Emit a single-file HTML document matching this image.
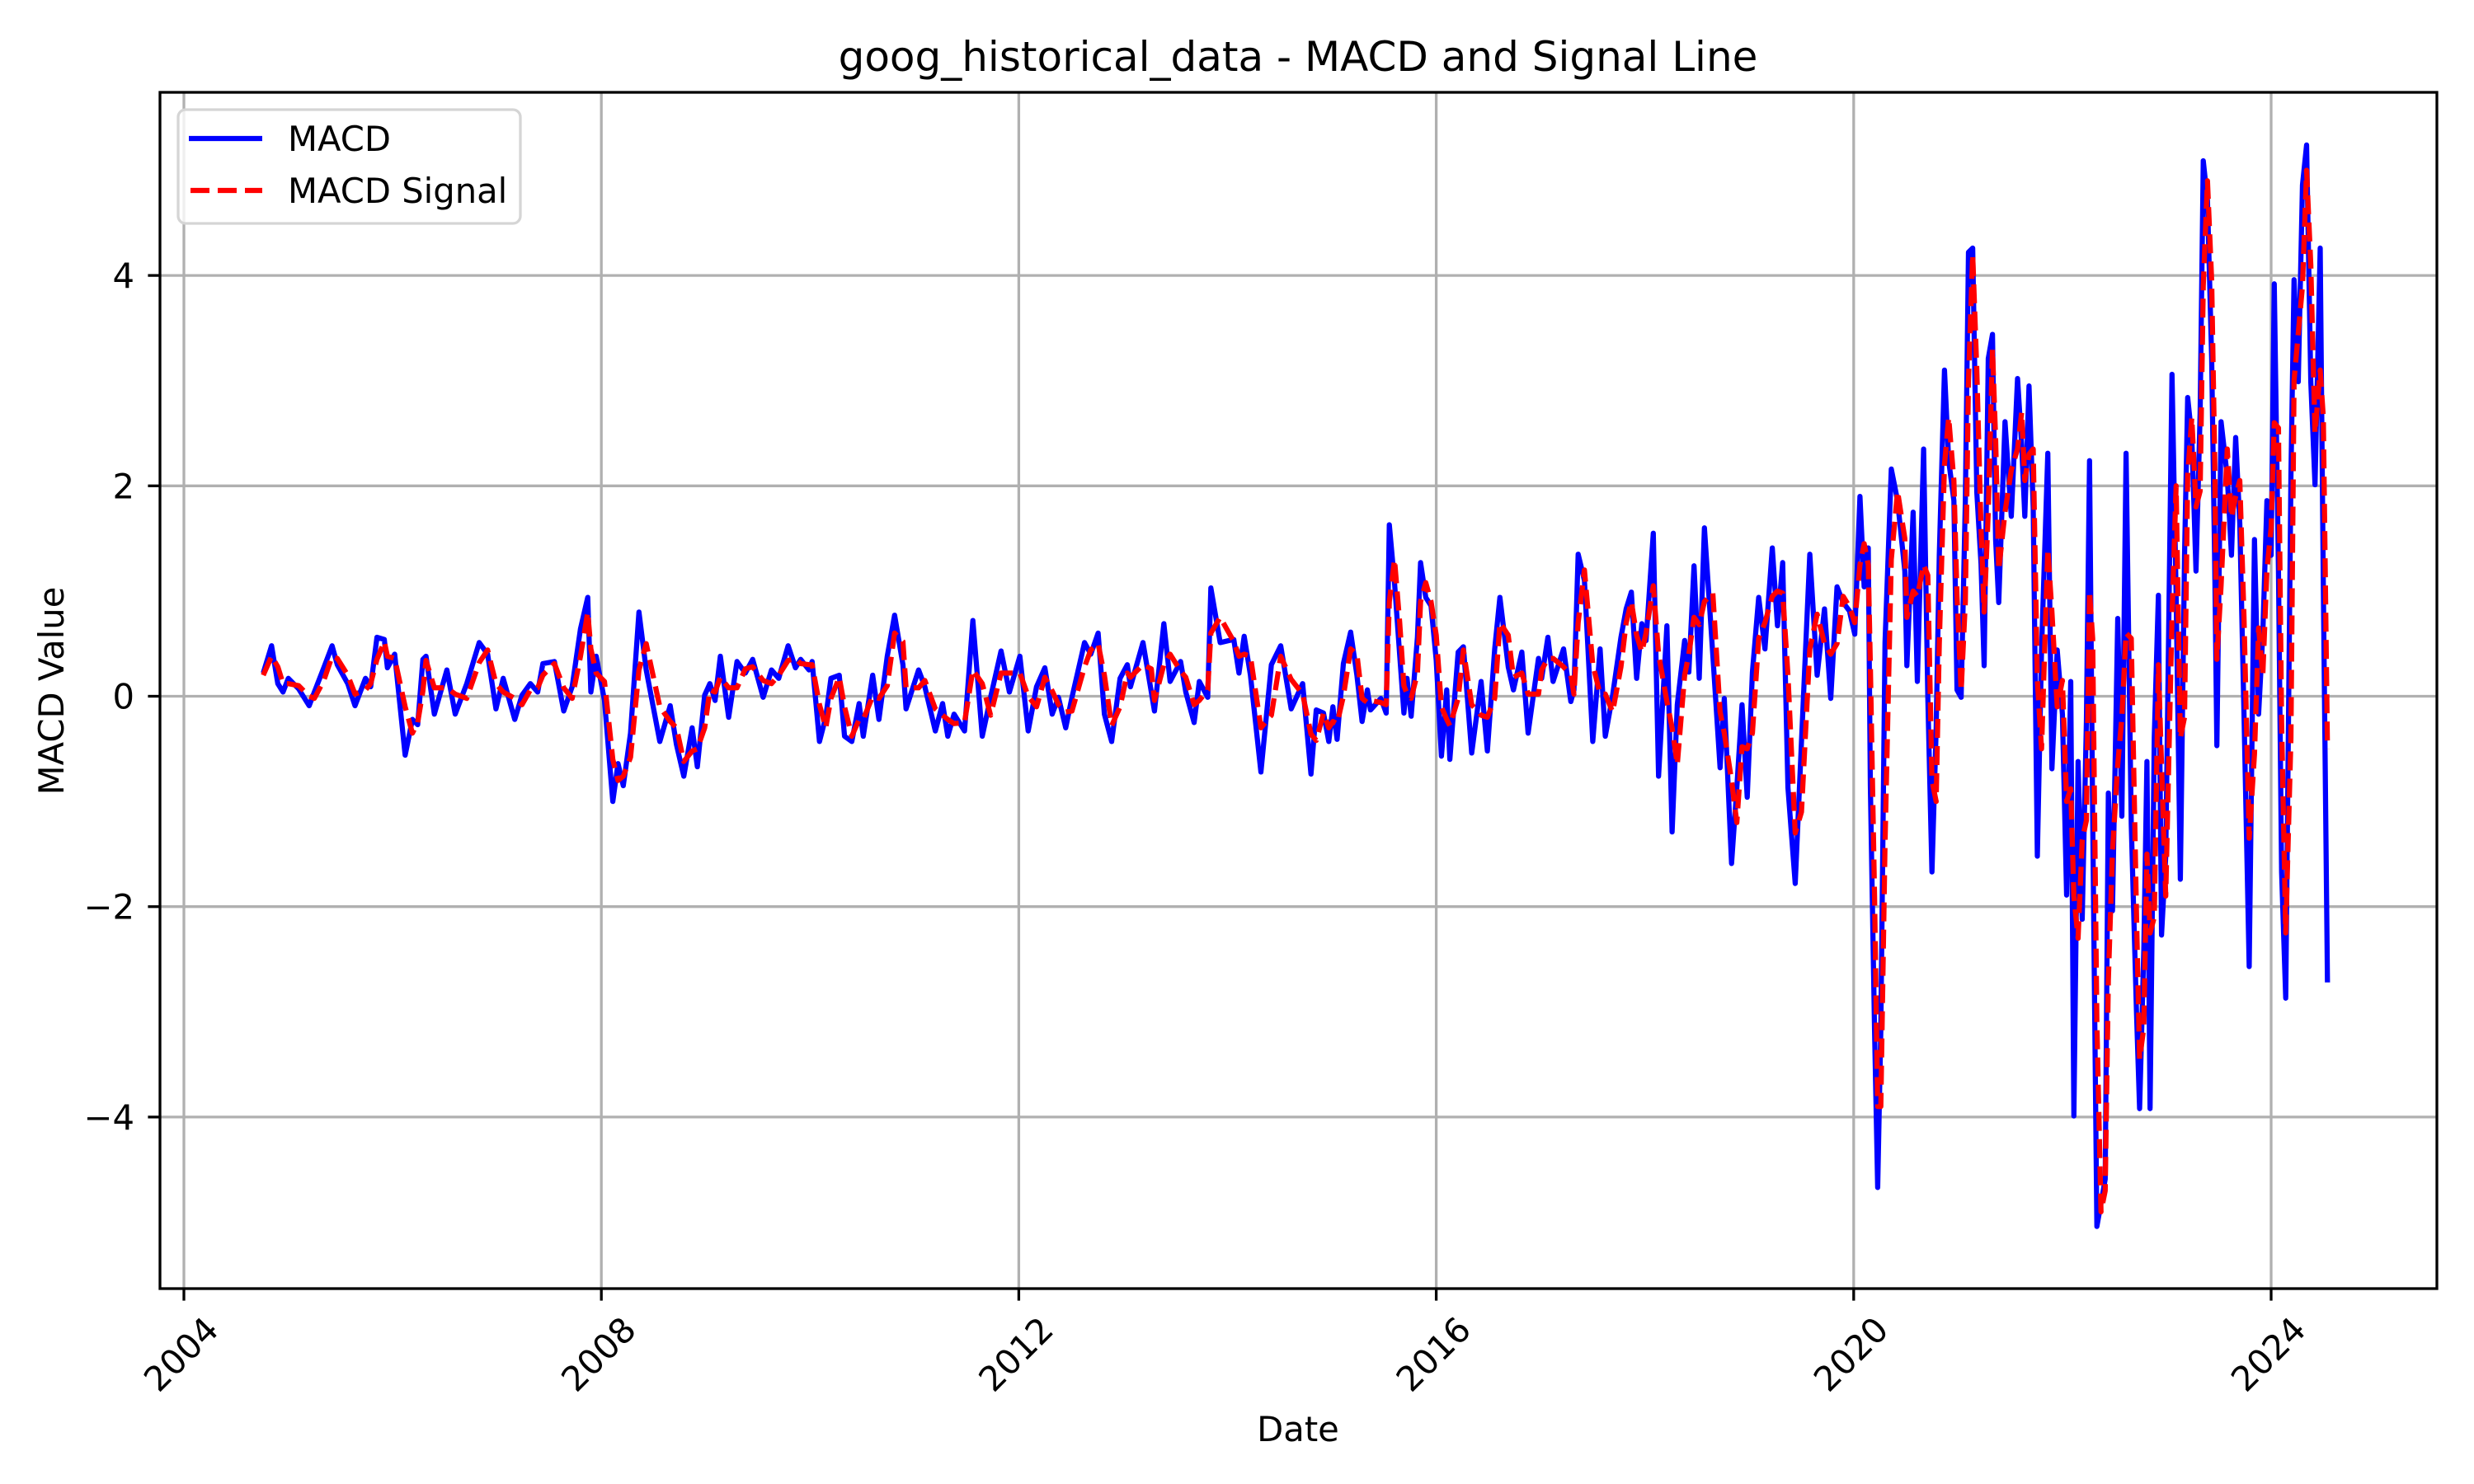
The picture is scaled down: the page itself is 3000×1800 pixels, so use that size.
<!DOCTYPE html>
<html><head><meta charset="utf-8"><style>
html,body{margin:0;padding:0;background:#fff;}
svg{display:block;font-family:"DejaVu Sans","Liberation Sans",sans-serif;}
</style></head><body>
<svg id="chart" width="3000" height="1800" viewBox="0 0 3000 1800">
<rect x="0" y="0" width="3000" height="1800" fill="#fff"/>
<g id="grid"></g>
<g id="plot"></g>
<rect x="194" y="112" width="2761" height="1451" fill="none" stroke="#000" stroke-width="3.3"/>
<g id="ticks"></g>
<text x="1574" y="86" font-size="50" text-anchor="middle">goog_historical_data - MACD and Signal Line</text>
<text x="1574" y="1748" font-size="41.7" text-anchor="middle">Date</text>
<text x="0" y="0" font-size="41.7" text-anchor="middle" transform="translate(77,838) rotate(-90)">MACD Value</text>
<g>
<rect x="216" y="133" width="415" height="138" rx="9" fill="#fff" fill-opacity="0.8" stroke="#d5d5d5" stroke-width="3.3"/>
<line x1="229" y1="168" x2="318" y2="168" stroke="#0000ff" stroke-width="6.25"/>
<text x="349" y="183" font-size="41.7">MACD</text>
<line x1="231" y1="231" x2="318" y2="231" stroke="#ff0000" stroke-width="6.25" stroke-dasharray="23,10"/>
<text x="349" y="246" font-size="41.7">MACD Signal</text>
</g>
</svg>
<script>
const dates = [2004.76,2004.84,2004.90,2004.95,2005.00,2005.10,2005.20,2005.25,2005.34,2005.42,2005.47,2005.57,2005.64,2005.74,2005.79,2005.85,2005.92,2005.95,2006.02,2006.12,2006.19,2006.24,2006.29,2006.32,2006.40,2006.52,2006.60,2006.71,2006.83,2006.91,2006.99,2007.06,2007.17,2007.24,2007.32,2007.39,2007.44,2007.55,2007.64,2007.72,2007.80,2007.87,2007.90,2007.95,2008.03,2008.11,2008.16,2008.21,2008.28,2008.36,2008.43,2008.56,2008.66,2008.72,2008.79,2008.87,2008.92,2008.99,2009.04,2009.09,2009.14,2009.22,2009.30,2009.38,2009.45,2009.55,2009.63,2009.70,2009.79,2009.86,2009.91,2009.99,2010.02,2010.09,2010.15,2010.20,2010.28,2010.33,2010.40,2010.47,2010.51,2010.60,2010.66,2010.74,2010.81,2010.89,2010.92,2011.04,2011.10,2011.20,2011.27,2011.32,2011.38,2011.48,2011.56,2011.65,2011.73,2011.83,2011.91,2012.01,2012.09,2012.17,2012.25,2012.32,2012.38,2012.45,2012.51,2012.63,2012.69,2012.76,2012.82,2012.89,2012.97,2013.04,2013.07,2013.19,2013.27,2013.30,2013.39,2013.45,2013.55,2013.60,2013.68,2013.73,2013.81,2013.84,2013.93,2014.06,2014.11,2014.16,2014.22,2014.32,2014.42,2014.51,2014.61,2014.72,2014.80,2014.85,2014.92,2014.97,2015.01,2015.05,2015.11,2015.18,2015.24,2015.29,2015.34,2015.37,2015.47,2015.52,2015.55,2015.60,2015.65,2015.69,2015.72,2015.76,2015.82,2015.85,2015.90,2015.95,2016.00,2016.05,2016.10,2016.13,2016.21,2016.26,2016.34,2016.43,2016.49,2016.56,2016.61,2016.69,2016.74,2016.82,2016.88,2016.98,2017.01,2017.07,2017.12,2017.22,2017.29,2017.32,2017.36,2017.42,2017.50,2017.57,2017.62,2017.69,2017.77,2017.82,2017.87,2017.92,2017.97,2018.01,2018.08,2018.13,2018.21,2018.26,2018.31,2018.38,2018.42,2018.47,2018.52,2018.57,2018.65,2018.72,2018.76,2018.83,2018.88,2018.93,2018.98,2019.03,2019.09,2019.15,2019.22,2019.27,2019.32,2019.37,2019.44,2019.50,2019.58,2019.65,2019.72,2019.78,2019.84,2019.90,2019.96,2020.01,2020.06,2020.10,2020.14,2020.16,2020.20,2020.23,2020.26,2020.30,2020.36,2020.42,2020.49,2020.51,2020.57,2020.61,2020.67,2020.71,2020.75,2020.79,2020.82,2020.87,2020.91,2020.96,2020.99,2021.03,2021.07,2021.10,2021.14,2021.18,2021.22,2021.25,2021.29,2021.33,2021.36,2021.39,2021.45,2021.51,2021.57,2021.61,2021.64,2021.68,2021.72,2021.76,2021.80,2021.86,2021.90,2021.95,2022.00,2022.04,2022.08,2022.11,2022.15,2022.19,2022.23,2022.26,2022.29,2022.33,2022.37,2022.41,2022.44,2022.48,2022.53,2022.57,2022.61,2022.66,2022.71,2022.74,2022.78,2022.81,2022.84,2022.88,2022.92,2022.95,2022.99,2023.05,2023.09,2023.13,2023.17,2023.20,2023.24,2023.28,2023.32,2023.35,2023.39,2023.43,2023.46,2023.48,2023.52,2023.58,2023.62,2023.66,2023.70,2023.74,2023.79,2023.84,2023.88,2023.92,2023.96,2024.00,2024.03,2024.07,2024.10,2024.14,2024.19,2024.22,2024.26,2024.30,2024.34,2024.38,2024.42,2024.47,2024.50,2024.54];
const macdValues = [0.22,0.48,0.12,0.04,0.17,0.07,-0.09,0.04,0.27,0.48,0.30,0.12,-0.09,0.17,0.09,0.56,0.54,0.27,0.40,-0.56,-0.22,-0.27,0.35,0.38,-0.17,0.25,-0.17,0.12,0.51,0.40,-0.12,0.17,-0.22,0.01,0.12,0.04,0.31,0.33,-0.14,0.09,0.64,0.94,0.04,0.38,-0.04,-1.00,-0.64,-0.85,-0.35,0.80,0.25,-0.43,-0.09,-0.46,-0.76,-0.30,-0.67,0.01,0.12,-0.04,0.38,-0.20,0.33,0.22,0.35,-0.01,0.25,0.17,0.48,0.27,0.35,0.25,0.33,-0.43,-0.20,0.17,0.20,-0.38,-0.43,-0.07,-0.38,0.20,-0.22,0.38,0.77,0.30,-0.12,0.25,0.09,-0.33,-0.07,-0.38,-0.17,-0.33,0.72,-0.38,-0.01,0.43,0.04,0.38,-0.33,0.09,0.27,-0.17,-0.01,-0.30,-0.01,0.51,0.40,0.60,-0.17,-0.43,0.17,0.30,0.09,0.51,0.04,-0.14,0.69,0.14,0.33,0.04,-0.25,0.14,-0.01,1.03,0.51,0.54,0.22,0.57,0.20,-0.72,0.30,0.48,-0.12,0.12,-0.74,-0.13,-0.16,-0.43,-0.10,-0.41,0.31,0.61,0.20,-0.24,0.06,-0.13,-0.02,-0.16,1.63,1.08,0.39,-0.16,0.17,-0.19,0.56,1.27,0.94,0.86,0.34,-0.57,0.06,-0.60,0.42,0.47,-0.54,0.14,-0.52,0.45,0.94,0.28,0.06,0.42,-0.35,0.36,0.17,0.56,0.14,0.45,-0.05,0.06,1.35,1.10,-0.43,0.45,-0.38,0.01,0.56,0.83,0.99,0.17,0.69,0.53,1.55,-0.76,0.67,-1.29,-0.08,0.53,0.23,1.24,0.17,1.60,0.39,-0.68,-0.02,-1.59,-0.87,-0.08,-0.96,0.23,0.94,0.45,1.41,0.67,1.27,-0.87,-1.78,-0.43,1.35,0.20,0.83,-0.02,1.04,0.89,0.81,0.59,1.90,1.04,1.41,-0.84,-3.17,-4.67,-3.17,0.51,2.16,1.86,1.19,0.29,1.75,0.14,2.35,-0.01,-1.67,-0.32,1.34,3.10,2.24,1.86,0.06,-0.01,1.86,4.22,4.26,1.94,1.26,0.29,3.21,3.44,1.49,0.89,2.61,1.71,3.02,2.39,1.71,2.95,1.79,-1.52,0.44,2.31,-0.69,0.44,-0.17,-1.89,0.14,-3.99,-0.62,-2.12,-0.24,2.24,-1.14,-5.04,-4.82,-4.59,-0.92,-2.04,0.74,-1.14,2.31,-1.22,-3.02,-3.92,-2.42,-0.62,-3.92,-0.39,0.96,-2.27,-1.52,3.06,0.96,-1.74,1.34,2.84,2.46,1.19,2.69,5.09,4.71,3.21,1.19,-0.47,2.61,2.09,1.34,2.46,1.64,-0.17,-2.57,1.49,-0.17,0.59,1.86,1.34,3.92,1.19,-1.67,-2.87,2.09,3.96,2.99,4.86,5.24,2.99,2.01,4.26,1.04,-2.72];
const signalValues = [0.20,0.38,0.28,0.12,0.12,0.10,0.00,-0.02,0.15,0.38,0.36,0.20,0.02,0.06,0.12,0.35,0.52,0.38,0.36,-0.10,-0.35,-0.25,0.05,0.34,0.08,0.08,0.02,-0.02,0.32,0.44,0.12,0.04,-0.02,-0.08,0.06,0.08,0.20,0.31,0.08,-0.02,0.38,0.80,0.45,0.22,0.14,-0.60,-0.80,-0.76,-0.58,0.25,0.50,-0.10,-0.24,-0.30,-0.62,-0.52,-0.50,-0.30,0.06,0.04,0.18,0.08,0.08,0.26,0.28,0.15,0.12,0.20,0.34,0.36,0.31,0.30,0.30,-0.08,-0.30,-0.02,0.18,-0.10,-0.38,-0.22,-0.22,0.00,-0.02,0.10,0.60,0.52,0.08,0.08,0.15,-0.12,-0.18,-0.22,-0.26,-0.25,0.25,0.12,-0.18,0.22,0.22,0.22,0.00,-0.10,0.18,0.05,-0.08,-0.15,-0.14,0.28,0.44,0.50,0.20,-0.28,-0.10,0.22,0.18,0.30,0.26,-0.04,0.30,0.40,0.24,0.18,-0.08,-0.04,0.06,0.60,0.75,0.52,0.38,0.40,0.38,-0.30,-0.18,0.38,0.16,0.02,-0.36,-0.42,-0.16,-0.30,-0.24,-0.26,0.00,0.45,0.40,-0.02,-0.06,-0.04,-0.06,-0.08,0.90,1.30,0.70,0.10,0.02,-0.02,0.22,0.90,1.08,0.90,0.58,-0.10,-0.22,-0.28,-0.02,0.44,-0.08,-0.18,-0.20,-0.02,0.70,0.58,0.18,0.22,0.02,0.02,0.25,0.36,0.36,0.28,0.20,0.02,0.70,1.20,0.30,0.02,0.02,-0.15,0.28,0.70,0.90,0.58,0.42,0.60,1.05,0.40,-0.05,-0.30,-0.65,0.20,0.40,0.75,0.68,0.90,0.98,-0.15,-0.35,-0.80,-1.20,-0.48,-0.50,-0.35,0.55,0.70,0.95,1.00,0.98,0.20,-1.30,-1.10,0.45,0.78,0.50,0.40,0.50,0.95,0.85,0.70,1.25,1.45,1.25,0.30,-1.90,-3.90,-3.90,-1.40,1.30,1.95,1.50,0.75,1.00,0.95,1.25,1.15,-0.80,-1.00,0.50,2.20,2.65,2.05,0.95,0.05,0.90,3.00,4.20,3.10,1.60,0.80,1.75,3.30,2.45,1.20,1.75,2.15,2.35,2.70,2.05,2.30,2.35,0.15,-0.50,1.40,0.80,-0.10,0.15,-1.00,-0.88,-1.90,-2.30,-1.37,-1.18,1.00,0.55,-3.10,-4.90,-4.70,-2.70,-1.48,-0.65,-0.20,0.60,0.55,-2.10,-3.45,-3.15,-1.50,-2.25,-2.10,0.30,-0.65,-1.90,0.75,2.00,-0.40,-0.20,2.10,2.65,1.80,1.95,3.90,4.90,3.95,2.20,0.35,1.05,2.35,1.70,1.90,2.05,0.75,-1.35,-0.55,0.65,0.20,1.20,1.60,2.60,2.55,-0.25,-2.25,-0.40,3.00,3.45,3.90,5.00,4.10,2.50,3.10,2.65,-0.50];
const yTicks = [-4,-2,0,2,4];
const xTicks = [2004,2008,2012,2016,2020,2024];

const NS = 'http://www.w3.org/2000/svg';
const PL = 194, PR = 2955, PT = 112, PB = 1563;
function xScale(yr){ return 223 + (yr - 2004) * 126.55; }
function yScale(v){ return 844.5 - v * 127.6; }
function mk(tag, attrs, parent){ const e = document.createElementNS(NS, tag); for (const k in attrs) e.setAttribute(k, attrs[k]); parent.appendChild(e); return e; }

const grid = document.getElementById('grid');
const ticks = document.getElementById('ticks');
const plot = document.getElementById('plot');

yTicks.forEach(function(t){
  const y = yScale(t);
  const g = mk('line', {x1:PL, x2:PR, y1:y, y2:y, stroke:'#b0b0b0', 'stroke-width':3.3}, grid);
  
  
  const tk = mk('line', {x1:PL-14.6, x2:PL, y1:y, y2:y, stroke:'#000', 'stroke-width':3.3}, ticks);
  
  
  const lb = mk('text', {x:163, y:y+15, 'font-size':41.7, 'text-anchor':'end'}, ticks);
  lb.textContent = t < 0 ? '\u2212' + Math.abs(t) : String(t);
  
  
});
xTicks.forEach(function(t){
  const x = xScale(t);
  const g = mk('line', {x1:x, x2:x, y1:PT, y2:PB, stroke:'#b0b0b0', 'stroke-width':3.3}, grid);
  
  
  const tk = mk('line', {x1:x, x2:x, y1:PB, y2:PB+14.6, stroke:'#000', 'stroke-width':3.3}, ticks);
  
  
  const lb = mk('text', {x:0, y:14, 'font-size':41.7, 'text-anchor':'middle', transform:'translate(' + (x-3) + ',1643) rotate(-45)'}, ticks);
  lb.textContent = String(t);
  
  
});

function pathFor(vals){
  return vals.map(function(v, i){ return (i ? 'L' : 'M') + xScale(dates[i]).toFixed(1) + ',' + yScale(v).toFixed(1); }).join('');
}
const macdLine = mk('path', {d:pathFor(macdValues), fill:'none', stroke:'#0000ff', 'stroke-width':6.25, 'stroke-linejoin':'round'}, plot);


const sigLine = mk('path', {d:pathFor(signalValues), fill:'none', stroke:'#ff0000', 'stroke-width':6.25, 'stroke-dasharray':'23,10', 'stroke-linejoin':'round'}, plot);


</script>
</body></html>
